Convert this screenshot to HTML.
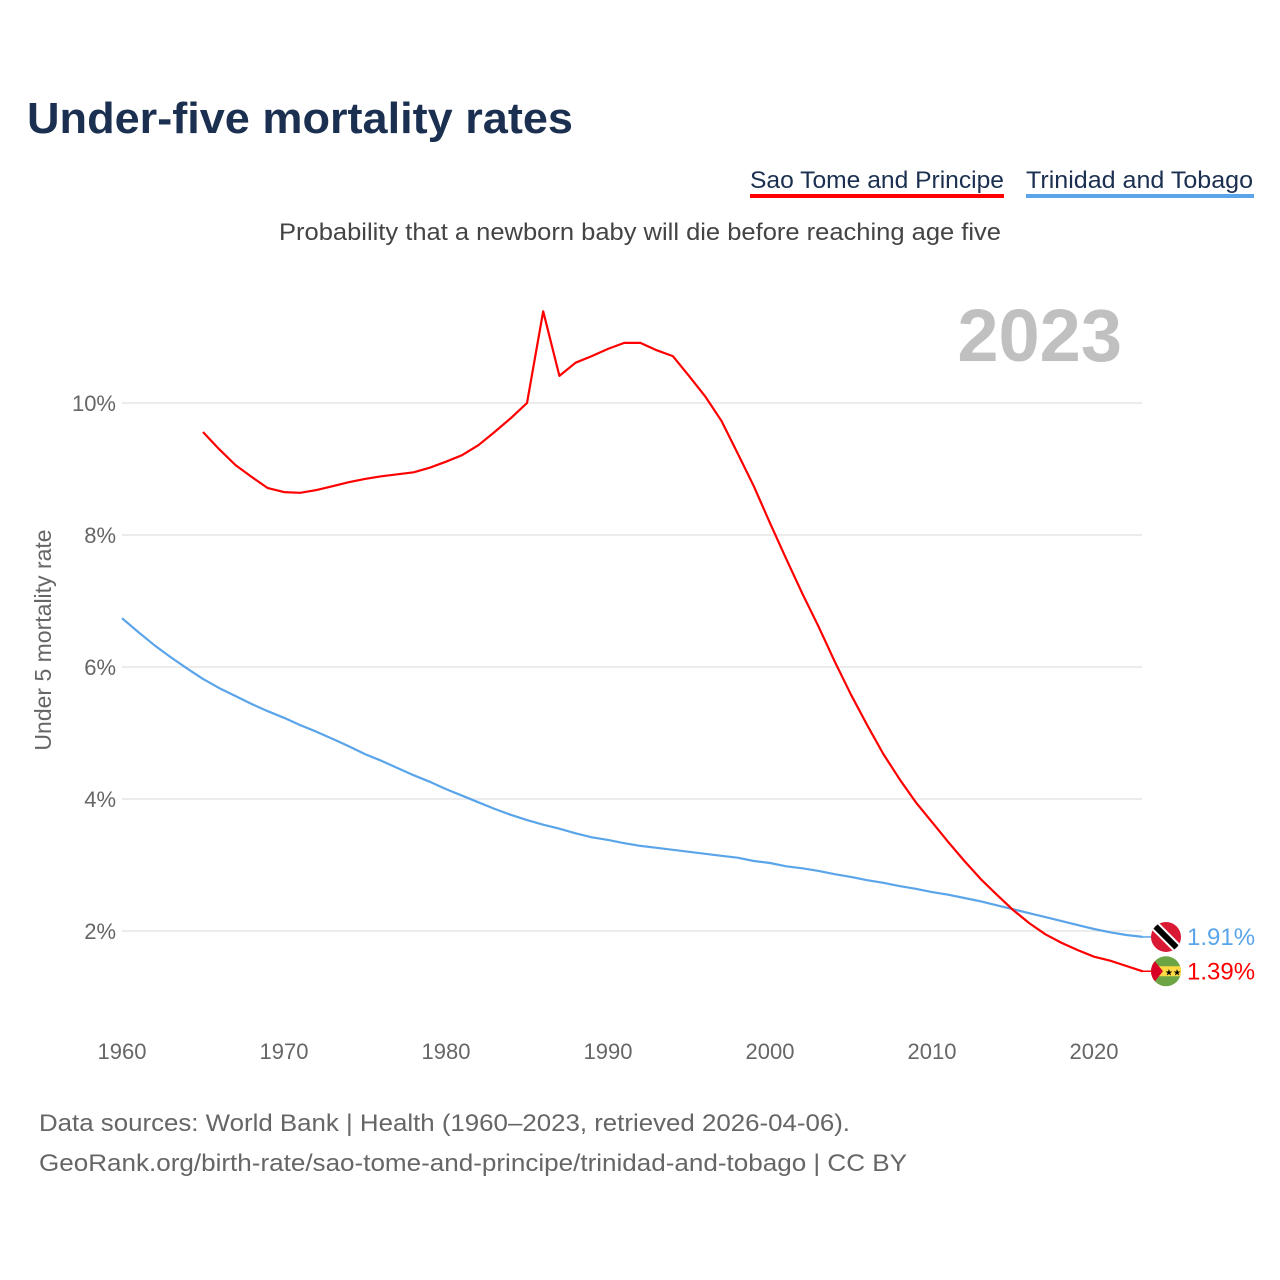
<!DOCTYPE html>
<html><head><meta charset="utf-8"><style>
body{margin:0;background:#fff;font-family:"Liberation Sans",sans-serif;}
svg{display:block}
</style></head><body>
<svg id="chart" width="1280" height="1280" xmlns="http://www.w3.org/2000/svg">
<text x="27" y="133" font-size="44" font-weight="bold" fill="#1b3050" textLength="546" lengthAdjust="spacingAndGlyphs">Under-five mortality rates</text>
<g><text x="750" y="188" font-size="24" fill="#1b3050" textLength="254" lengthAdjust="spacingAndGlyphs">Sao Tome and Principe</text><rect x="750" y="194" width="254" height="4" fill="#ff0000"/></g>
<g><text x="1026" y="188" font-size="24" fill="#1b3050" textLength="227" lengthAdjust="spacingAndGlyphs">Trinidad and Tobago</text><rect x="1026" y="194" width="228" height="4" fill="#5aa5ea"/></g>
<text x="279" y="240" font-size="24" fill="#444" textLength="722" lengthAdjust="spacingAndGlyphs">Probability that a newborn baby will die before reaching age five</text>
<text x="1122" y="361" font-size="74" font-weight="bold" fill="#c0c0c0" text-anchor="end">2023</text>
<text transform="translate(51,640) rotate(-90)" font-size="23" fill="#666" text-anchor="middle">Under 5 mortality rate</text>
<g id="grid"></g><g id="series"></g>
<text x="39" y="1131" font-size="24" fill="#666" textLength="811" lengthAdjust="spacingAndGlyphs">Data sources: World Bank | Health (1960–2023, retrieved 2026-04-06).</text>
<text x="39" y="1171" font-size="24" fill="#666" textLength="868" lengthAdjust="spacingAndGlyphs">GeoRank.org/birth-rate/sao-tome-and-principe/trinidad-and-tobago | CC BY</text>
</svg>
<script>
const yTicks=[2,4,6,8,10];
const xTicks=[1960,1970,1980,1990,2000,2010,2020];
const stpStart=1965;
const stpValues=[9.56,9.30,9.06,8.88,8.71,8.65,8.64,8.68,8.74,8.80,8.85,8.89,8.92,8.95,9.02,9.11,9.21,9.36,9.56,9.77,10.0,11.39,10.41,10.61,10.71,10.82,10.91,10.91,10.80,10.71,10.41,10.1,9.73,9.24,8.74,8.18,7.64,7.11,6.61,6.08,5.58,5.12,4.68,4.30,3.95,3.65,3.35,3.06,2.79,2.55,2.32,2.12,1.95,1.82,1.71,1.61,1.55,1.47,1.39];
const ttStart=1960;
const ttValues=[6.74,6.53,6.33,6.15,5.98,5.82,5.68,5.56,5.44,5.33,5.23,5.12,5.02,4.91,4.80,4.68,4.58,4.47,4.36,4.26,4.15,4.05,3.95,3.85,3.76,3.68,3.61,3.55,3.48,3.42,3.38,3.33,3.29,3.26,3.23,3.20,3.17,3.14,3.11,3.06,3.03,2.98,2.95,2.91,2.86,2.82,2.77,2.73,2.68,2.64,2.59,2.55,2.50,2.45,2.39,2.33,2.27,2.21,2.15,2.09,2.03,1.98,1.94,1.91];
const NS='http://www.w3.org/2000/svg';
const X=y=>122+(y-1960)*16.2;
const Y=v=>1063-66*v;
function mk(t,a,p){const e=document.createElementNS(NS,t);for(const k in a)e.setAttribute(k,a[k]);p.appendChild(e);return e;}
const grid=document.getElementById('grid'), ser=document.getElementById('series');
yTicks.forEach(v=>{
 const l=mk('line',{x1:122,x2:1142,y1:Y(v),y2:Y(v),stroke:'#e6e6e6','stroke-width':1.5},grid);
 
 
 const t=mk('text',{x:116,y:Y(v)+8,'font-size':22,fill:'#666','text-anchor':'end'},grid);t.textContent=v+'%';
 
 
});
xTicks.forEach(y=>{
 const t=mk('text',{x:X(y),y:1059,'font-size':22,fill:'#666','text-anchor':'middle'},grid);t.textContent=y;
 
 
});
function line(vals,start,color,name){
 const d=vals.map((v,i)=>(i?'L':'M')+X(start+i).toFixed(1)+','+Y(v).toFixed(1)).join('');
 const p=mk('path',{d:d,fill:'none',stroke:color,'stroke-width':2.2,'stroke-linejoin':'round'},ser);
 
 
}
line(ttValues,ttStart,'#5aa5ea','line-trinidad');
line(stpValues,stpStart,'#ff0000','line-sao-tome');
const ttLast=ttValues[ttValues.length-1], stLast=stpValues[stpValues.length-1];
const ty=Y(ttLast), sy=Y(stLast);
mk('line',{x1:1142,x2:1152,y1:ty,y2:ty,stroke:'#5aa5ea','stroke-width':1.5},ser);
mk('line',{x1:1142,x2:1152,y1:sy,y2:sy,stroke:'#ff0000','stroke-width':1.5},ser);
const ft=mk('g',{},ser);


const c1=mk('clipPath',{id:'c1'},ft);mk('circle',{cx:1166,cy:ty,r:15},c1);
const g1=mk('g',{'clip-path':'url(#c1)'},ft);
mk('rect',{x:1150,y:ty-16,width:32,height:32,fill:'#da1a35'},g1);
mk('line',{x1:1152,y1:ty-14,x2:1180,y2:ty+14,stroke:'#fff','stroke-width':10},g1);
mk('line',{x1:1152,y1:ty-14,x2:1180,y2:ty+14,stroke:'#000','stroke-width':6},g1);
const fs=mk('g',{},ser);


const c2=mk('clipPath',{id:'c2'},fs);mk('circle',{cx:1166,cy:sy,r:15},c2);
const g2=mk('g',{'clip-path':'url(#c2)'},fs);
mk('rect',{x:1150,y:sy-16,width:32,height:32,fill:'#6da544'},g2);
mk('rect',{x:1150,y:sy-5,width:32,height:10,fill:'#ffda44'},g2);
mk('polygon',{points:`1150,${sy-16} 1163,${sy} 1150,${sy+16}`,fill:'#d80027'},g2);
const st=mk('text',{x:1173,y:sy+4,'font-size':9,fill:'#000','text-anchor':'middle'},g2);st.textContent='★★';
const l1=mk('text',{x:1187,y:ty+8,'font-size':24,fill:'#5aa5ea'},ser);l1.textContent=ttLast.toFixed(2)+'%';


const l2=mk('text',{x:1187,y:sy+8,'font-size':24,fill:'#ff0000'},ser);l2.textContent=stLast.toFixed(2)+'%';


</script>
</body></html>
